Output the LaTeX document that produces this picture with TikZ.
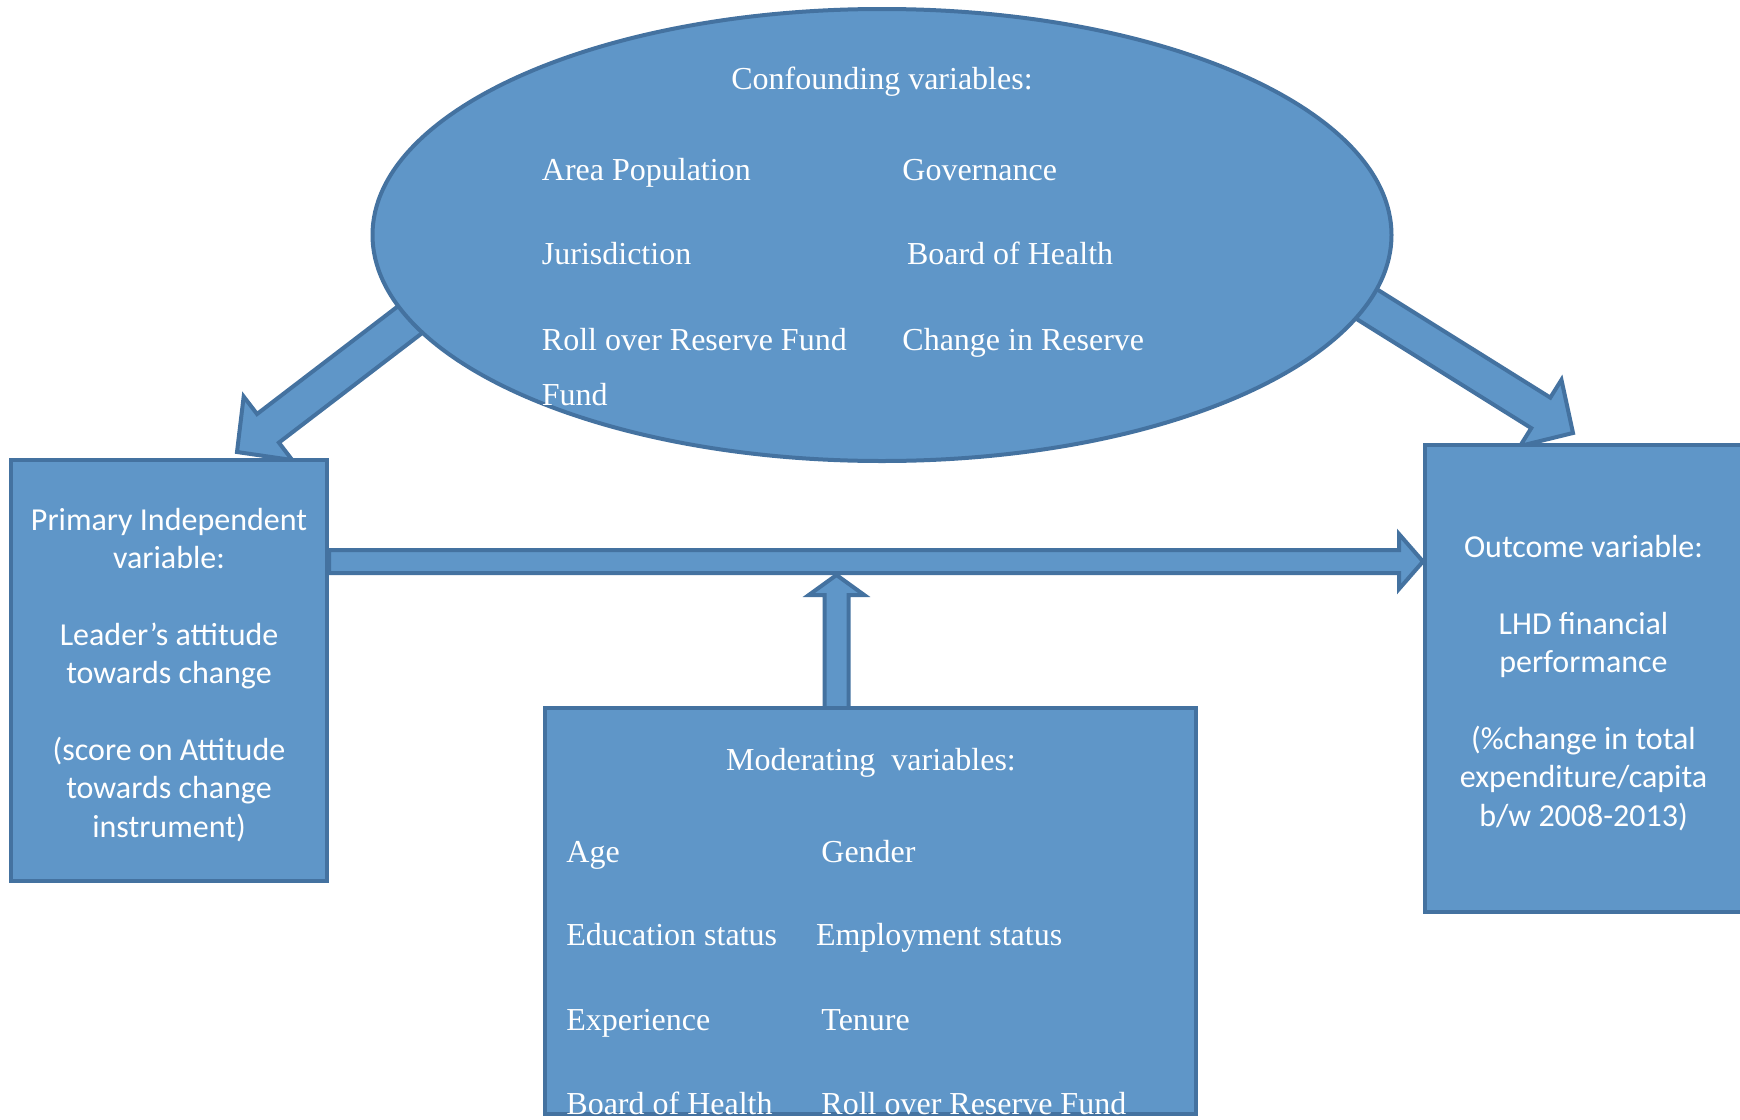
\documentclass[tikz,border=0pt]{standalone}
\usepackage{fontspec}
\setmainfont{Liberation Serif}
\newfontfamily\boxfont{Carlito}
\usetikzlibrary{shapes.geometric,calc}
\definecolor{boxblue}{RGB}{95,150,200}
\definecolor{boxline}{RGB}{68,114,160}
\pgfdeclarelayer{background}
\pgfsetlayers{background,main}
\tikzset{
    conf/.style={ellipse,draw=boxline,fill=boxblue,line width=2pt,minimum width=509.5pt,minimum height=226pt},
    vbox/.style={rectangle,draw=boxline,fill=boxblue,line width=2pt,text=white,align=center,inner sep=0pt,
        font={\boxfont\fontsize{16pt}{19.2pt}\selectfont}},
    vtext/.style={text=white,inner sep=0pt,anchor=base west,font={\fontsize{16pt}{19.2pt}\selectfont}},
    blockarr/.style={draw=boxline,fill=boxblue,line width=2pt,line join=miter},
}
% from, to, shaft half width, head half width, head length
\newcommand\fatarrow[5]{%
  \coordinate (fa-base) at ($(#2)!#5!(#1)$);
  \draw[blockarr] ($(#1)!#3!90:(#2)$) -- ($(fa-base)!#3!90:(#2)$)
    -- ($(fa-base)!#4!90:(#2)$) -- (#2)
    -- ($(fa-base)!#4!-90:(#2)$) -- ($(fa-base)!#3!-90:(#2)$)
    -- ($(#1)!#3!-90:(#2)$) -- cycle;
}
\newcommand\topstrut{\rule{0pt}{15.5pt}}

\begin{document}
\begin{tikzpicture}[x=0.5pt,y=-0.5pt]
    \useasboundingbox (0,0) rectangle (1740,1119);

    % confounders
    \node[conf] (conf) at (882,235) {};
    \node[vtext,anchor=base] (c0) at (882,89) {Confounding variables:};
    \node[vtext] (c1) at (541.5,180) {Area Population};
    \node[vtext] (c2) at (902,180) {Governance};
    \node[vtext] (c3) at (541.5,264) {Jurisdiction};
    \node[vtext] (c4) at (906.6,264) {Board of Health};
    \node[vtext] (c5) at (541.5,350) {Roll over Reserve Fund};
    \node[vtext] (c6) at (902,350) {Change in Reserve};
    \node[vtext] (c7) at (541.5,405) {Fund};

    % boxes
    \node[vbox,minimum width=158pt,minimum height=210.5pt] (prim) at (169,670.5)
        {\topstrut Primary Independent\\variable:\\[19.2pt]Leader’s attitude\\towards change\\[19.2pt](score on Attitude\\towards change\\instrument)};
    \node[vbox,minimum width=158.5pt,minimum height=233.5pt] (outc) at (1583.5,678.5)
        {\topstrut Outcome variable:\\[19.2pt]LHD financial\\performance\\[19.2pt](\%change in total\\expenditure/capita\\b/w 2008-2013)};
    \node[vbox,minimum width=325.5pt,minimum height=203pt] (modr) at (870.5,911) {};

    % moderators
    \node[vtext,anchor=base] (m0) at (871,770) {Moderating\ \ variables:};
    \node[vtext] (m1) at (566,862) {Age};
    \node[vtext] (m2) at (821,862) {Gender};
    \node[vtext] (m3) at (566,945) {Education status};
    \node[vtext] (m4) at (815.6,945) {Employment status};
    \node[vtext] (m5) at (566,1030) {Experience};
    \node[vtext] (m6) at (821,1030) {Tenure};
    \node[vtext] (m7) at (566,1114) {Board of Health};
    \node[vtext] (m8) at (821,1114) {Roll over Reserve Fund};

    % block arrows
    \coordinate (l-from) at (441,296);
    \coordinate (l-to) at (237,452);
    \coordinate (r-from) at (1334.5,284);
    \coordinate (r-to) at (1573,433);
    \coordinate (h-from) at (prim.east |- 0,561.5);
    \coordinate (h-to) at (outc.west |- h-from);
    \coordinate (v-from) at (836.5,708);
    \coordinate (v-to) at (836.5,575);
    \begin{pgfonlayer}{background}
        \fatarrow{l-from}{l-to}{9pt}{20pt}{19.5pt}
        \fatarrow{r-from}{r-to}{9pt}{19.5pt}{19pt}
        \fatarrow{h-from}{h-to}{5.75pt}{13.75pt}{12pt}
        \fatarrow{v-from}{v-to}{6pt}{13.85pt}{10pt}
    \end{pgfonlayer}
\end{tikzpicture}
\end{document}
